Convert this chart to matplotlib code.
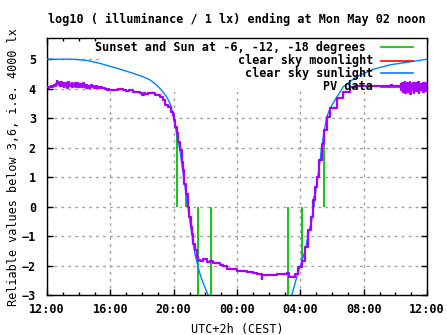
import numpy as np
import matplotlib
matplotlib.use("Agg")
import matplotlib.pyplot as plt
from matplotlib.ticker import MultipleLocator, FixedLocator
from matplotlib.patches import Rectangle

# hours after noon (12:00 -> 0, next noon -> 24)
tick_hours = [0, 4, 8, 12, 16, 20, 24]
tick_labels = ["12:00", "16:00", "20:00", "00:00", "04:00", "08:00", "12:00"]

# sun at 0, -6, -12, -18 degrees (evening and morning)
sun_hours = [8.19, 8.76, 9.52, 10.38, 15.24, 16.12, 16.89, 17.52]
sun_tops = [2.5, 0.55, -3.0, -3.0, -3.0, -2.0, 0.35, 2.6]

# clear sky sunlight
sky_hours = [0.0, 1.65, 2.5, 3.34, 4.5, 5.45, 6.0, 6.5, 6.85, 7.13, 7.35, 7.55,
             7.77, 7.9, 8.02, 8.19, 8.4, 8.57, 8.78, 8.99, 9.14, 9.24, 9.34,
             9.5, 9.65, 9.9, 10.18, 10.3,
             15.35, 15.46, 15.77, 15.98, 16.3, 16.51, 16.72, 16.82, 16.93,
             17.04, 17.25, 17.35, 17.52, 17.67, 17.88, 18.19, 18.72, 19.56,
             20.61, 21.67, 23.75, 24.0]
sky_vals = [5.0, 5.0, 4.96, 4.86, 4.68, 4.52, 4.42, 4.3, 4.16, 4.01, 3.87, 3.73,
            3.5, 3.25, 2.94, 2.48, 1.91, 1.23, 0.44, -0.35, -0.92, -1.26, -1.6,
            -1.95, -2.27, -2.65, -3.0, -3.2,
            -3.2, -3.0, -2.4, -2.05, -1.49, -0.92, -0.47, -0.11, 0.33,
            0.78, 1.57, 2.03, 2.59, 3.05, 3.33, 3.62, 4.07, 4.41,
            4.66, 4.81, 4.98, 5.0]

# PV data, afternoon (noisy part)
pv_noon_hours = np.arange(0.0, 4.0, 0.05)
pv_noon_vals = [4.05, 4.06, 4.04, 4.07, 4.05, 4.08, 4.06, 4.09, 4.10,
                4.12, 4.08, 4.15, 4.26, 4.18, 4.24, 4.12, 4.20, 4.10, 4.22, 4.08,
                4.18, 4.06, 4.21, 4.10, 4.19, 4.04, 4.16, 4.22, 4.08, 4.17,
                4.11, 4.20, 4.05, 4.15, 4.09, 4.18, 4.07, 4.13, 4.19, 4.06,
                4.12, 4.08, 4.16, 4.05, 4.14, 4.09, 4.18, 4.06, 4.11, 4.04,
                4.13, 4.07, 4.10, 4.03, 4.08, 4.05, 4.12, 4.06, 4.09, 4.04,
                4.07, 4.05, 4.10, 4.04, 4.06, 4.05, 4.06, 4.04, 4.05, 4.03,
                4.04, 4.02, 4.03, 4.00, 3.98, 4.00, 3.97, 3.99, 3.96, 3.97]

# PV data, dusk - night - dawn
pv_night_hours = [4.0, 4.5, 4.8, 5.0, 5.2, 5.45, 5.7, 5.9, 6.0, 6.1, 6.2, 6.35,
                  6.5, 6.8, 7.13, 7.35, 7.45, 7.66, 7.81, 7.94, 8.02, 8.09,
                  8.19, 8.29, 8.4, 8.51, 8.57, 8.67, 8.78, 8.89, 8.99, 9.08,
                  9.14, 9.24, 9.35, 9.46, 9.56, 9.67, 9.85, 10.09, 10.3, 10.51,
                  10.93, 11.1, 11.35, 11.98, 12.3, 12.62, 13.0, 13.25, 13.5,
                  13.56, 13.6, 13.88, 14.51, 15.14, 15.3, 15.46, 15.67, 15.87,
                  16.09, 16.3, 16.51, 16.66, 16.82, 16.93, 17.04, 17.18, 17.35,
                  17.5, 17.67, 17.88, 18.3, 18.72, 19.14, 19.46, 21.7, 21.75,
                  21.8, 22.27]
pv_night_vals = [3.97, 3.98, 3.95, 3.93, 3.95, 3.90, 3.89, 3.86, 3.80, 3.86,
                 3.82, 3.86, 3.84, 3.79, 3.73, 3.62, 3.45, 3.39, 3.22, 3.11,
                 2.94, 2.71, 2.48, 2.20, 1.91, 1.52, 1.23, 0.78, 0.44, -0.01,
                 -0.35, -0.69, -0.92, -1.26, -1.49, -1.71, -1.80, -1.83, -1.78,
                 -1.88, -1.86, -1.92, -1.97, -2.0, -2.11, -2.17, -2.20, -2.22,
                 -2.25, -2.30, -2.30, -2.45, -2.33, -2.33, -2.28, -2.26, -2.38,
                 -2.40, -2.28, -2.05, -1.83, -1.37, -0.81, -0.35, 0.21, 0.67,
                 1.01, 1.57, 2.14, 2.59, 3.05, 3.33, 3.67, 3.90, 4.05, 4.08,
                 4.08, 4.14, 4.08, 4.08]

# PV data, morning (noisy part)
pv_morning_hours = np.linspace(22.3, 24.0, 43)
pv_morning_vals = [4.08, 4.15, 3.95, 4.20, 3.88, 4.12, 4.02, 4.22, 3.85, 4.10,
                   3.98, 4.18, 3.90, 4.14, 4.00, 4.24, 3.82, 4.08, 4.16, 3.94,
                   4.20, 3.87, 4.11, 4.03, 4.19, 3.92, 4.15, 3.99, 4.22, 3.86,
                   4.09, 4.17, 3.95, 4.12, 4.05, 4.21, 3.90, 4.13, 4.00, 4.18,
                   3.93, 4.10, 4.06]

GREEN = "#00c000"
RED = "#ff0000"
BLUE = "#0080ff"
PURPLE = "#a800ff"
FS = 8.45

plt.rcParams["font.family"] = ["DejaVu Sans Mono"]
plt.rcParams["font.weight"] = "bold"
plt.rcParams["font.size"] = FS

fig = plt.figure(figsize=(4.47, 3.35), dpi=100)
ax = fig.add_axes([47 / 447, 40 / 335, 380 / 447, 256.7 / 335])

pv_hours = np.concatenate([pv_noon_hours, pv_night_hours, pv_morning_hours])
pv_vals = np.concatenate([pv_noon_vals, pv_night_vals, pv_morning_vals])

ax.vlines(sun_hours, 0, sun_tops, color=GREEN, lw=1.3, zorder=3)
ax.plot(sky_hours, sky_vals, color=BLUE, lw=1.0, zorder=4)
ax.plot(pv_hours, pv_vals, color=PURPLE, lw=1.6, drawstyle="steps-post", zorder=5)

ax.set_xlim(0, 24)
ax.set_ylim(-3, 5.71)
ax.xaxis.set_major_locator(FixedLocator(tick_hours))
ax.set_xticklabels(tick_labels)
ax.xaxis.set_minor_locator(MultipleLocator(1))
ax.yaxis.set_major_locator(MultipleLocator(1))
ax.tick_params(direction="in", top=True, right=True, length=4, width=1, pad=6,
               labelsize=FS)
ax.tick_params(which="minor", direction="in", top=True, right=False, length=2, width=1)
ax.tick_params(axis="y", pad=8)
ax.grid(True, color="#a0a0a0", lw=1, linestyle=(0, (2, 3)), zorder=1)
ax.set_axisbelow(True)
for s in ax.spines.values():
    s.set_linewidth(1.0)

# key: opaque box over the grid, right aligned labels
ax.add_patch(Rectangle((0.139, 0.79), 0.861, 0.21, transform=ax.transAxes,
                       facecolor="white", edgecolor="none", zorder=2))
key = [("Sunset and Sun at -6, -12, -18 degrees ", GREEN),
       ("clear sky moonlight", RED),
       ("clear sky sunlight", BLUE),
       ("PV data", PURPLE)]
rows = [0.965, 0.913, 0.864, 0.812]
for (label, col), yy in zip(key, rows):
    ax.text(0.858, yy, label, transform=ax.transAxes, ha="right", va="center",
            fontsize=FS, zorder=6)
    ax.plot([0.879, 0.963], [yy, yy], transform=ax.transAxes, color=col, lw=1.2, zorder=6)

ax.set_title("log10 ( illuminance / 1 lx) ending at Mon May 02 noon",
             fontsize=FS, fontweight="bold", pad=11)
ax.set_xlabel("UTC+2h (CEST)", fontsize=FS, labelpad=5)
ax.set_ylabel("Reliable values below 3,6, i.e. 4000 lx", fontsize=FS, labelpad=1)

fig.savefig("out.png", dpi=100)
